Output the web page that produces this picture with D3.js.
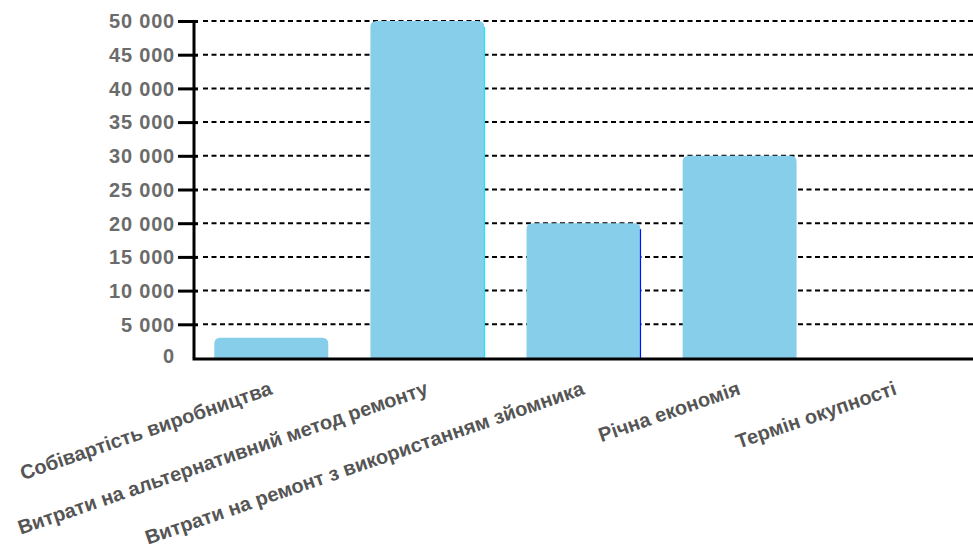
<!DOCTYPE html>
<html>
<head>
<meta charset="utf-8">
<script src="https://cdn.jsdelivr.net/npm/d3@7"></script>
<style>
  html, body { margin: 0; padding: 0; background: #fff; }
  svg { display: block; }
</style>
</head>
<body>
<svg id="chart" width="973" height="551"></svg>
<script>
// Cost categories and values (UAH)
const categories = [
  "Собівартість виробництва",
  "Витрати на альтернативний метод ремонту",
  "Витрати на ремонт з використанням зйомника",
  "Річна економія",
  "Термін окупності"
];
const values = [3000, 50000, 20000, 30000, 0];
const yTicks = [0, 5000, 10000, 15000, 20000, 25000, 30000, 35000, 40000, 45000, 50000];

const svg = d3.select("#chart");
const plotLeft = 194, plotRight = 973, plotTop = 21, plotBottom = 358;

const x = d3.scaleBand()
  .domain(categories)
  .range([plotLeft, plotRight])
  .paddingInner(0.27)
  .paddingOuter(0.13);

const y = d3.scaleLinear().domain([0, 50000]).range([plotBottom, plotTop]);

const fmt = v => d3.format(",")(v).replace(/,/g, " ");

// dashed gridlines
svg.append("g")
  .selectAll("line")
  .data(yTicks.filter(d => d > 0))
  .join("line")
  .attr("x1", plotLeft + 9)
  .attr("x2", plotRight)
  .attr("y1", d => y(d))
  .attr("y2", d => y(d))
  .attr("stroke", "#000")
  .attr("stroke-width", 2)
  .attr("stroke-dasharray", "5,3.5");

// bars with rounded top corners
const r = 6;
function barPath(d, i) {
  const x0 = x(categories[i]), w = x.bandwidth();
  const y0 = y(d), y1 = y(0);
  const h = y1 - y0;
  if (h <= 0) return "";
  const rr = Math.min(r, h);
  return `M${x0},${y1}V${y0 + rr}Q${x0},${y0} ${x0 + rr},${y0}H${x0 + w - rr}Q${x0 + w},${y0} ${x0 + w},${y0 + rr}V${y1}Z`;
}
svg.append("g")
  .selectAll("path")
  .data(values)
  .join("path")
  .attr("d", (d, i) => barPath(d, i))
  .attr("fill", "#87ceeb");

// edge highlights on two bars
svg.append("line")
  .attr("x1", x(categories[1]) + x.bandwidth())
  .attr("x2", x(categories[1]) + x.bandwidth())
  .attr("y1", y(values[1]) + r)
  .attr("y2", y(0))
  .attr("stroke", "#00f0ff").attr("stroke-width", 1.2);
svg.append("line")
  .attr("x1", x(categories[2]) + x.bandwidth())
  .attr("x2", x(categories[2]) + x.bandwidth())
  .attr("y1", y(values[2]) + r)
  .attr("y2", y(0))
  .attr("stroke", "#0010ff").attr("stroke-width", 1.2);

// y axis
const yAxis = d3.axisLeft(y)
  .tickValues(yTicks)
  .tickFormat(fmt)
  .tickSize(16)
  .tickPadding(4);
const gy = svg.append("g")
  .attr("transform", `translate(${plotLeft},0)`)
  .call(yAxis);
gy.select(".domain").attr("stroke", "#000").attr("stroke-width", 3)
  .attr("d", `M0,${plotTop}V${plotBottom}`);
gy.selectAll(".tick line")
  .attr("stroke", "#000").attr("stroke-width", 3)
  .attr("x2", d => d === 0 ? 0 : -16)
  .attr("x1", d => d === 0 ? 0 : 4);
gy.selectAll(".tick text")
  .attr("fill", "#6b6b6b")
  .style("font-family", "'Liberation Sans', Arial, sans-serif")
  .style("font-weight", "bold")
  .style("font-size", "20px")
  .style("letter-spacing", "0.8px")
  .attr("x", -19)
  .attr("dy", d => d === 0 ? "0.2em" : "0.34em");

// x axis baseline
svg.append("line")
  .attr("x1", plotLeft - 1.5).attr("x2", plotRight)
  .attr("y1", plotBottom + 1).attr("y2", plotBottom + 1)
  .attr("stroke", "#000").attr("stroke-width", 3);

// rotated category labels
svg.append("g")
  .selectAll("text")
  .data(categories)
  .join("text")
  .attr("transform", d => `translate(${x(d) + x.bandwidth() / 2 + 2},${394}) rotate(-19)`)
  .attr("text-anchor", "end")
  .attr("fill", "#555")
  .style("font-family", "'Liberation Sans', Arial, sans-serif")
  .style("font-weight", "bold")
  .style("font-size", "20px")
  .text(d => d);
</script>
</body>
</html>
